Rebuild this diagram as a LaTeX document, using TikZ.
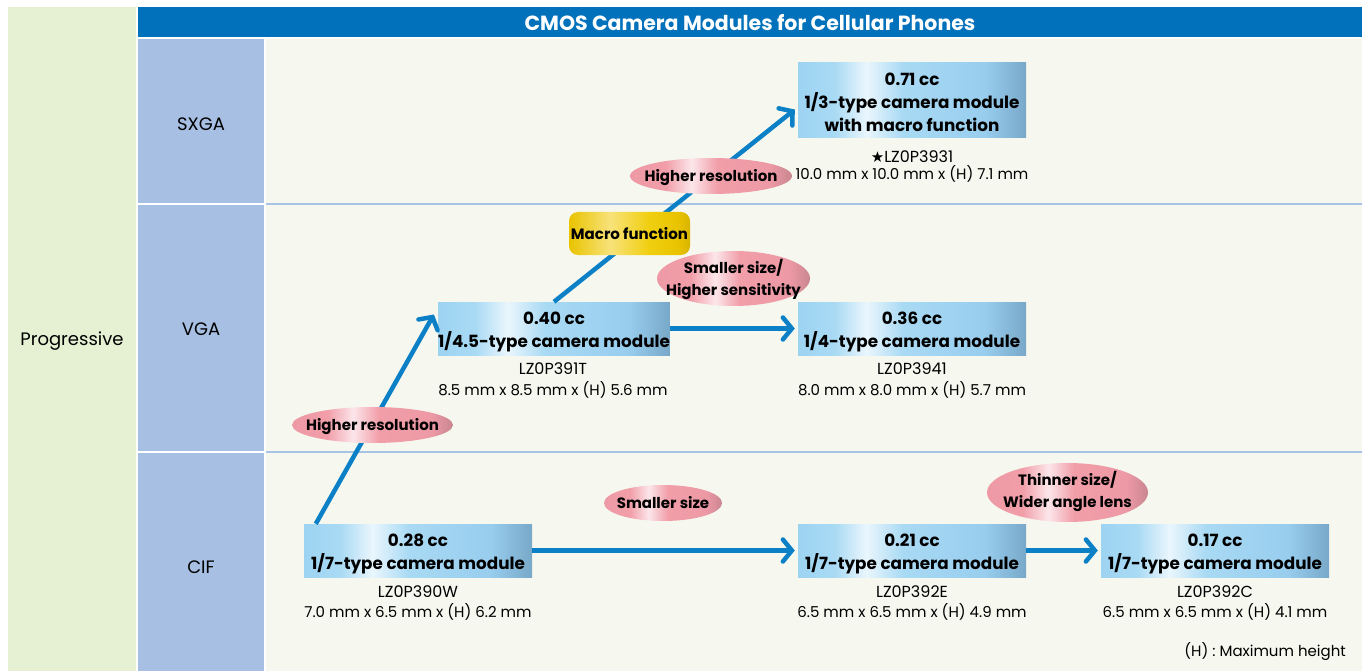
\documentclass[tikz,border=0pt]{standalone}
\usepackage{fontspec}
\setmainfont{Poppins}
\newfontfamily\djv{DejaVu Sans}
\usetikzlibrary{shapes.geometric,arrows.meta}
\definecolor{greenbg}{HTML}{E6F0D2}
\definecolor{hdr}{HTML}{0071BA}
\definecolor{rowlab}{HTML}{A6BFE2}
\definecolor{contentbg}{HTML}{F6F8EF}
\definecolor{sepline}{HTML}{A8C3E6}
\definecolor{arrowblue}{HTML}{0B80C7}
\definecolor{bA}{HTML}{9DD4F2}
\definecolor{bB}{HTML}{A9DAF4}
\definecolor{bW}{HTML}{EAF6FD}
\definecolor{bC}{HTML}{98CDEE}
\definecolor{bD}{HTML}{78A8C8}
\definecolor{pA}{HTML}{EE9AA6}
\definecolor{pW}{HTML}{FCE6EA}
\definecolor{pB}{HTML}{F19EA9}
\definecolor{pD}{HTML}{C98690}
\definecolor{yA}{HTML}{E9C300}
\definecolor{yW}{HTML}{F8E27A}
\definecolor{yB}{HTML}{F0CF10}
\definecolor{yD}{HTML}{D8B400}
\pgfdeclarehorizontalshading{boxsh}{100bp}{color(0bp)=(bA); color(25bp)=(bA); color(33bp)=(bB); color(40bp)=(bW); color(48bp)=(bB); color(66bp)=(bC); color(75bp)=(bD); color(100bp)=(bD)}
\pgfdeclarehorizontalshading{pinksh}{100bp}{color(0bp)=(pA); color(25bp)=(pA); color(36bp)=(pB); color(44bp)=(pW); color(52bp)=(pB); color(68bp)=(pA); color(75bp)=(pD); color(100bp)=(pD)}
\pgfdeclarehorizontalshading{yellowsh}{100bp}{color(0bp)=(yA); color(25bp)=(yA); color(42bp)=(yW); color(58bp)=(yB); color(70bp)=(yA); color(75bp)=(yD); color(100bp)=(yD)}
\begin{document}
\begin{tikzpicture}[x=1pt,y=-1pt,
  modbox/.style={shading=boxsh, minimum width=228pt, inner sep=0pt, align=center,
    font=\fontsize{16.8}{23}\selectfont\bfseries, text height=40pt, text depth=3pt},
  pinkell/.style={ellipse, shading=pinksh, inner xsep=-14pt, inner ysep=-6pt, align=center,
    font=\fontsize{15}{22}\selectfont\bfseries},
  yellowbox/.style={rounded corners=9pt, shading=yellowsh, inner sep=0pt, align=center,
    font=\fontsize{15}{18}\selectfont\bfseries, text height=13pt, text depth=1.4pt},
  capA/.style={font=\fontsize{16}{18}\selectfont, inner sep=0pt},
  capB/.style={font=\fontsize{15}{16}\selectfont, inner sep=0pt},
  rowtxt/.style={font=\fontsize{18}{20}\selectfont, inner sep=0pt},
  flow/.style={draw=arrowblue, line width=4.5pt, -{Straight Barb[length=9pt,width=22pt,line cap=round]}}
]
\useasboundingbox (0,0) rectangle (1362,671);
\fill[white] (0,0) rectangle (1362,671);
\fill[greenbg] (8,7) rectangle (136,671);
\fill[hdr] (138,7) rectangle (1362,37);
\fill[rowlab] (138,39) rectangle (264,203);
\fill[rowlab] (138,205) rectangle (264,451);
\fill[rowlab] (138,453) rectangle (264,671);
\fill[contentbg] (266,39) rectangle (1362,671);
\draw[sepline, line width=2pt] (266,204) -- (1362,204);
\draw[sepline, line width=2pt] (266,452) -- (1362,452);

\node[text=white, font=\fontsize{20.5}{22}\selectfont\bfseries, inner sep=0pt] (title) at (750,23) {CMOS Camera Modules for Cellular Phones};
\node[rowtxt] (prog) at (72,341) {Progressive};
\node[rowtxt] (sxga) at (201,124) {SXGA};
\node[rowtxt] (vga) at (201,329) {VGA};
\node[rowtxt] (cif) at (201,567) {CIF};

% module boxes
\node[modbox, minimum height=75pt, text height=65pt, text depth=3pt] (b071) at (912,100.5) {0.71 cc\\1/3-type camera module\\with macro function};
\node[modbox, minimum width=226pt, minimum height=53pt] (b040) at (554,328.5) {0.40 cc\\1/4.5-type camera module};
\node[modbox, minimum height=53pt] (b036) at (912,328.5) {0.36 cc\\1/4-type camera module};
\node[modbox, minimum height=53pt] (b028) at (418,550.5) {0.28 cc\\1/7-type camera module};
\node[modbox, minimum height=53pt] (b021) at (912,550.5) {0.21 cc\\1/7-type camera module};
\node[modbox, minimum height=53pt] (b017) at (1215,550.5) {0.17 cc\\1/7-type camera module};

% captions
\node[capA] (c071a) at (912,157) {{\djv\fontsize{15}{18}\selectfont ★}LZ0P3931};
\node[capB] (c071b) at (912,174) {10.0 mm x 10.0 mm x (H) 7.1 mm};
\node[capA] (c040a) at (553,369) {LZ0P391T};
\node[capB] (c040b) at (553,390) {8.5 mm x 8.5 mm x (H) 5.6 mm};
\node[capA] (c036a) at (912,369) {LZ0P3941};
\node[capB] (c036b) at (912,390) {8.0 mm x 8.0 mm x (H) 5.7 mm};
\node[capA] (c028a) at (418,592) {LZ0P390W};
\node[capB] (c028b) at (418,612) {7.0 mm x 6.5 mm x (H) 6.2 mm};
\node[capA] (c021a) at (912,592) {LZ0P392E};
\node[capB] (c021b) at (912,612) {6.5 mm x 6.5 mm x (H) 4.9 mm};
\node[capA] (c017a) at (1215,592) {LZ0P392C};
\node[capB] (c017b) at (1215,612) {6.5 mm x 6.5 mm x (H) 4.1 mm};
\node[capB, anchor=east] (note) at (1346,652) {(H) : Maximum height};

% arrows
\draw[flow] ([xshift=12pt]b028.north west) -- ([xshift=-4pt,yshift=14pt]b040.west);
\draw[flow] (b040.north) -- ([xshift=-3pt,yshift=-9pt]b071.west);
\draw[flow] (b040.east) -- ([xshift=-3pt]b036.west);
\draw[flow] (b028.east) -- ([xshift=-3pt]b021.west);
\draw[flow] (b021.east) -- ([xshift=-3pt]b017.west);

% change labels
\node[pinkell, minimum width=162pt, minimum height=36pt, text height=12pt, text depth=1pt] (e1) at (711,176) {Higher resolution};
\node[yellowbox, minimum width=121pt, minimum height=43pt] (mf) at (629.5,233.5) {Macro function};
\node[pinkell, minimum width=153pt, minimum height=55pt, text height=35pt, text depth=1.4pt] (e2) at (733.5,278.5) {Smaller size/\\Higher sensitivity};
\node[pinkell, minimum width=161pt, minimum height=36pt, text height=12pt, text depth=1pt] (e3) at (372.5,425) {Higher resolution};
\node[pinkell, minimum width=118pt, minimum height=36pt, text height=12pt, text depth=1pt] (e4) at (663,503) {Smaller size};
\node[pinkell, minimum width=161pt, minimum height=59pt, text height=31pt, text depth=1.4pt] (e5) at (1067.5,492.5) {Thinner size/\\Wider angle lens};
\end{tikzpicture}
\end{document}
